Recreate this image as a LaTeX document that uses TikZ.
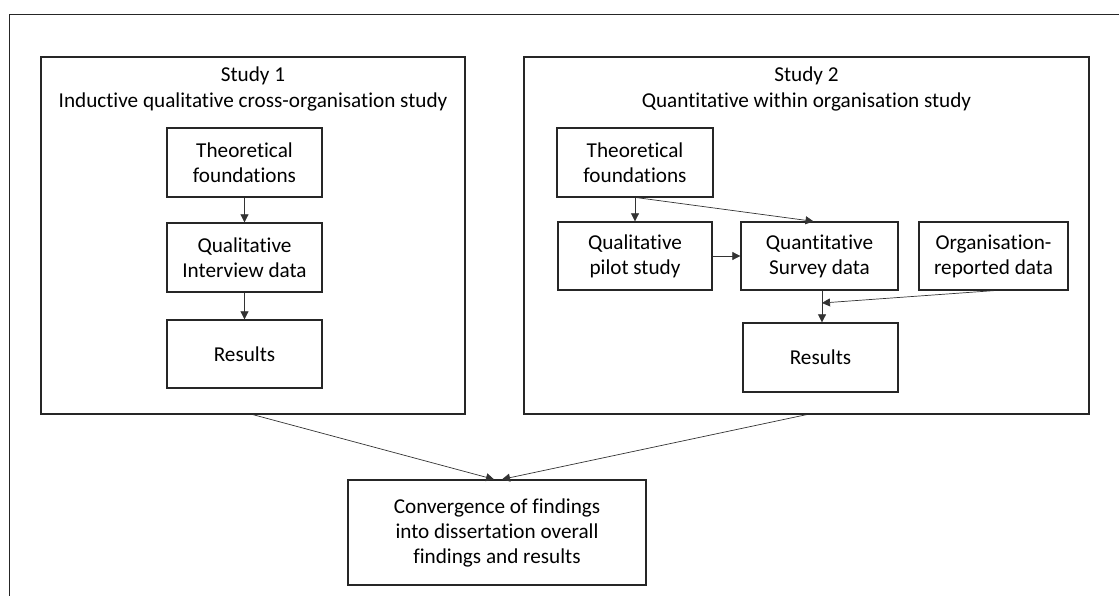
\documentclass[tikz,border=0pt]{standalone}
\usepackage{fontspec}
\setmainfont[Ligatures={NoCommon}]{Carlito}
\usetikzlibrary{arrows.meta,calc}
\begin{document}
\begin{tikzpicture}[x=1pt,y=-1pt,
  box/.style={draw=black!85,line width=1.3pt,align=center,inner sep=0pt,font=\fontsize{21.2}{25}\selectfont},
  ttl/.style={align=center,inner sep=0pt,font=\fontsize{21.2}{26}\selectfont},
  conn/.style={draw=black!80,line width=0.7pt,-{Triangle[length=8pt,width=8pt]}}]
\useasboundingbox (0,0) rectangle (1119,596);
\draw[black!85,line width=0.9pt] (9,596) -- (9,14) -- (1119,14);
% study frames
\node[draw=black!85,line width=1.3pt,minimum width=424pt,minimum height=357pt,inner sep=0pt] (s1) at (253,235.5) {};
\node[draw=black!85,line width=1.3pt,minimum width=565pt,minimum height=357pt,inner sep=0pt] (s2) at (806.5,235.5) {};
\node[ttl] (t1) at (253,89) {Study 1\\Inductive qualitative cross-organisation study};
\node[ttl] (t2) at (806.5,89) {Study 2\\Quantitative within organisation study};
% study 1
\node[box,minimum width=155pt,minimum height=69pt] (a1) at (244.5,162.5) {Theoretical\\foundations};
\node[box,minimum width=155pt,minimum height=69pt] (a2) at (244.5,257.5) {Qualitative\\Interview data};
\node[box,minimum width=155pt,minimum height=68pt] (a3) at (244.5,354) {Results};
% study 2
\node[box,minimum width=156pt,minimum height=69pt] (b1) at (635,162.5) {Theoretical\\foundations};
\node[box,minimum width=154pt,minimum height=68pt] (b2) at (635,256) {Qualitative\\pilot study};
\node[box,minimum width=157pt,minimum height=68pt] (b3) at (819.5,256) {Quantitative\\Survey data};
\node[box,minimum width=149pt,minimum height=68pt] (b4) at (993.5,256) {Organisation-\\reported data};
\node[box,minimum width=155pt,minimum height=69pt] (b5) at (820.5,357.5) {Results};
% convergence
\node[box,minimum width=298pt,minimum height=105pt] (c) at (497,532.5) {Convergence of findings\\into dissertation overall\\findings and results};
% connectors
\draw[conn] (a1.south) -- (a2.north);
\draw[conn] (a2.south) -- (a3.north);
\draw[conn] (b1.south) -- (b2.north);
\draw[conn] ($(b1.south)+(2,0)$) -- ($(b3.north)+(-6,0)$);
\draw[conn] (b2.east) -- (b3.west);
\coordinate (j) at (822,303);
\draw[conn] (b3.south -| j) -- (b5.north -| j);
\draw[conn] (b4.south) -- (j);
\draw[conn] (s1.south) -- ($(c.north)+(-3,0)$);
\draw[conn] (s2.south) -- ($(c.north)+(5,0)$);
\end{tikzpicture}
\end{document}
